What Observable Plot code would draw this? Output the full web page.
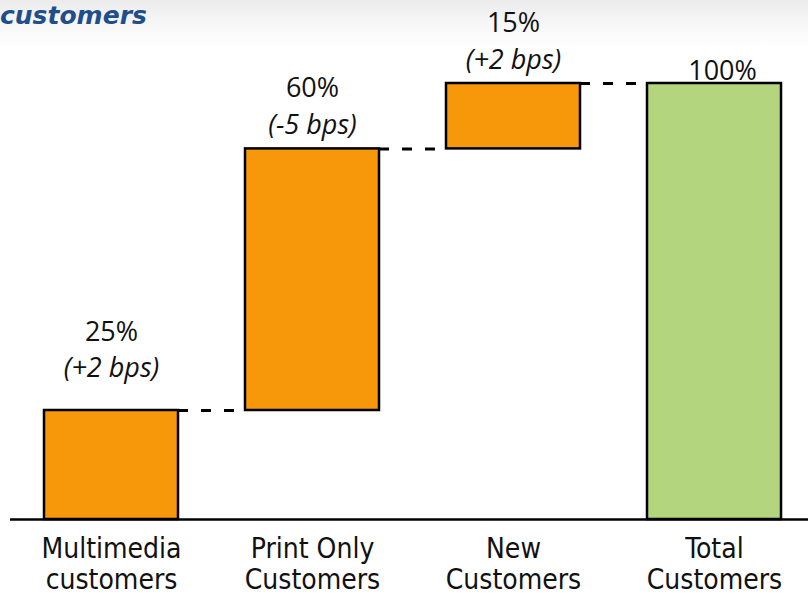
<!DOCTYPE html>
<html><head><meta charset="utf-8">
<script src="https://cdn.jsdelivr.net/npm/d3@7"></script>
<script src="https://cdn.jsdelivr.net/npm/@observablehq/plot@0.6"></script>
<style>
html,body{margin:0;padding:0;}
body{width:808px;height:598px;overflow:hidden;position:relative;background:linear-gradient(#ebebeb 0px,#f6f6f6 22px,#ffffff 48px);}
#title{position:absolute;left:0px;top:1px;font-family:"DejaVu Sans";font-style:oblique;font-weight:bold;font-size:25px;line-height:30px;color:#1f4e8c;white-space:nowrap;}
#chart{position:absolute;left:0;top:0;}
</style></head><body>
<div id="title">customers</div>
<div id="chart"></div>
<script>
const categories = ["Multimedia\ncustomers", "Print Only\nCustomers", "New\nCustomers", "Total\nCustomers"];
const shares = [25, 60, 15, 100];
const changes = ["(+2 bps)", "(-5 bps)", "(+2 bps)", null];
const kinds = ["part", "part", "part", "total"];

const orange = "#f7980a", green = "#b3d57e";

let run = 0;
const data = categories.map((c, i) => {
  let base, top;
  if (kinds[i] === "total") { base = 0; top = shares[i]; }
  else { base = run; top = run + shares[i]; run = top; }
  return {i, cat: c, share: shares[i], change: changes[i], kind: kinds[i], base, top};
});
const links = data.slice(0, -1).map(d => ({i: d.i, level: d.top}));

const labelFont = {fontFamily: "Open Sans", fontSize: 27, fill: "#111"};

const chart = Plot.plot({
  width: 808,
  height: 598,
  marginLeft: 10, marginRight: 0, marginTop: 0, marginBottom: 0,
  style: {background: "transparent", overflow: "visible"},
  x: {type: "linear", domain: [-0.5, 3.5], range: [10.5, 814.5], axis: null},
  y: {domain: [0, 100], range: [519, 83], axis: null},
  marks: [
    Plot.rectY(data, {x1: d => d.i - 1/3, x2: d => d.i + 1/3, y1: "base", y2: "top",
      fill: d => d.kind === "total" ? green : orange, stroke: "black", strokeWidth: 2.5}),
    Plot.ruleY(links, {x1: d => d.i + 1/3, x2: d => d.i + 2/3, y: "level",
      stroke: "black", strokeWidth: 3, strokeDasharray: "10,13"}),
    Plot.ruleY([0], {stroke: "black", strokeWidth: 2.5}),
    // first bar labels (placed higher)
    Plot.text(data.filter(d => d.i === 0), {x: "i", y: "top", text: d => d.share + "%", lineAnchor: "bottom", dy: -70, ...labelFont}),
    Plot.text(data.filter(d => d.i === 0), {x: "i", y: "top", text: "change", lineAnchor: "bottom", dy: -34, fontStyle: "italic", ...labelFont}),
    // other part labels
    Plot.text(data.filter(d => d.i > 0 && d.kind === "part"), {x: "i", y: "top", text: d => d.share + "%", lineAnchor: "bottom", dy: -52, ...labelFont}),
    Plot.text(data.filter(d => d.i > 0 && d.kind === "part"), {x: "i", y: "top", text: "change", lineAnchor: "bottom", dy: -15, fontStyle: "italic", ...labelFont}),
    // total label
    Plot.text(data.filter(d => d.kind === "total"), {x: "i", y: "top", text: d => d.share + "%", lineAnchor: "bottom", dy: -4, dx: 8, ...labelFont}),
    // category labels
    Plot.text(data, {x: "i", y: () => 0, text: "cat", lineAnchor: "top", dy: 17, lineHeight: 1.1,
      fontFamily: "DejaVu Sans Condensed", fontSize: 28, fill: "#111"})
  ]
});
document.getElementById("chart").appendChild(chart);
</script>
</body></html>
